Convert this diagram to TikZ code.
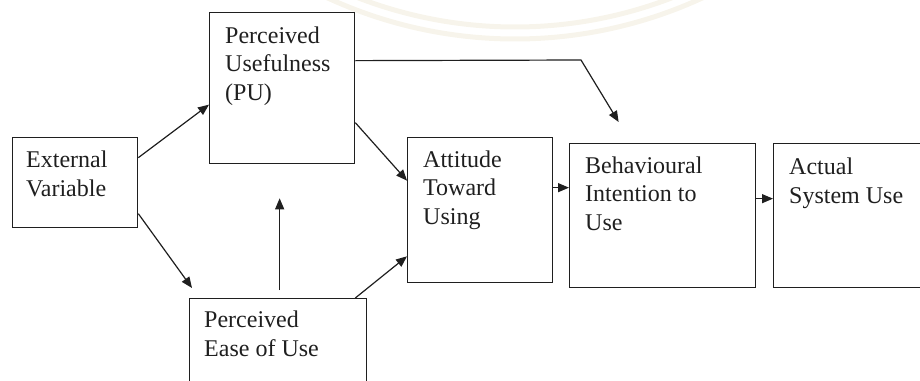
\documentclass[tikz,border=0pt]{standalone}
\usepackage{fontspec}
\setmainfont{Liberation Serif}
\usetikzlibrary{arrows.meta}
\definecolor{ink}{rgb}{0.12,0.12,0.12}
\definecolor{haze}{RGB}{247,244,235}
\begin{document}
\begin{tikzpicture}[x=1pt,y=-1pt,
  box/.style={draw=ink, line width=1.3pt, inner sep=0pt, anchor=north west},
  % anchored at the baseline of the last line
  lbl/.style={anchor=base west, inner sep=0pt, align=left,
              font=\fontsize{24}{28.5}\selectfont, text=ink},
  link/.style={draw=ink, line width=1.2pt, -{Triangle[length=11pt,width=9pt]}},
  emblemarc/.style={draw=haze, line width=5pt}]
\useasboundingbox (0,0) rectangle (920,380);
\clip (0,0) rectangle (920,380);

% faint emblem arcs in the background
\draw[emblemarc] (515,-409) ++(60:436) arc[start angle=60,end angle=120,radius=436];
\draw[emblemarc] (515,-409) ++(60:448) arc[start angle=60,end angle=120,radius=448];

% boxes
\node[box, minimum width=125pt, minimum height=90pt]  (ev)   at (12,137)  {};
\node[box, minimum width=145pt, minimum height=151pt] (pu)   at (209,12)  {};
\node[box, minimum width=177pt, minimum height=120pt] (peou) at (189,298) {};
\node[box, minimum width=145pt, minimum height=145pt] (atu)  at (407,137) {};
\node[box, minimum width=186pt, minimum height=144pt] (bi)   at (569,143) {};
\node[box, minimum width=160pt, minimum height=144pt] (asu)  at (773,143) {};

% labels
\node[lbl] (evtext)   at (26,196)  {External\\Variable};
\node[lbl] (putext)   at (225,100) {Perceived\\Usefulness\\(PU)};
\node[lbl] (peoutext) at (204,356) {Perceived\\Ease of Use};
\node[lbl] (atutext)  at (423,224) {Attitude\\Toward\\Using};
\node[lbl] (bitext)   at (585,230) {Behavioural\\Intention to\\Use};
\node[lbl] (asutext)  at (789,203) {Actual\\System Use};

% connectors
\draw[link] ([yshift=25pt]ev.east) -- ([yshift=-16.5pt]pu.west);
\draw[link] ([yshift=-31pt]ev.east) -- ([xshift=3pt,yshift=10pt]peou.north west);
\draw[link] ([xshift=1.5pt,yshift=8pt]peou.north) -- ([xshift=-2.5pt,yshift=-34pt]pu.south);
\draw[link] ([xshift=-12pt]peou.north east) -- ([yshift=27pt]atu.south west);
\draw[link] ([yshift=-34.5pt]pu.east) -- ([yshift=29.5pt]atu.west);
\draw[link] ([yshift=22.5pt]atu.east) -- ([yshift=22.5pt]atu.east -| bi.west);
\draw[link] ([yshift=17pt]bi.east) -- ([yshift=17pt]bi.east -| asu.west);
\coordinate (bend) at (581,60);
\draw[link] ([yshift=27.5pt]pu.east) -- (bend) -- ([xshift=-44pt,yshift=21pt]bi.north);
\end{tikzpicture}
\end{document}
